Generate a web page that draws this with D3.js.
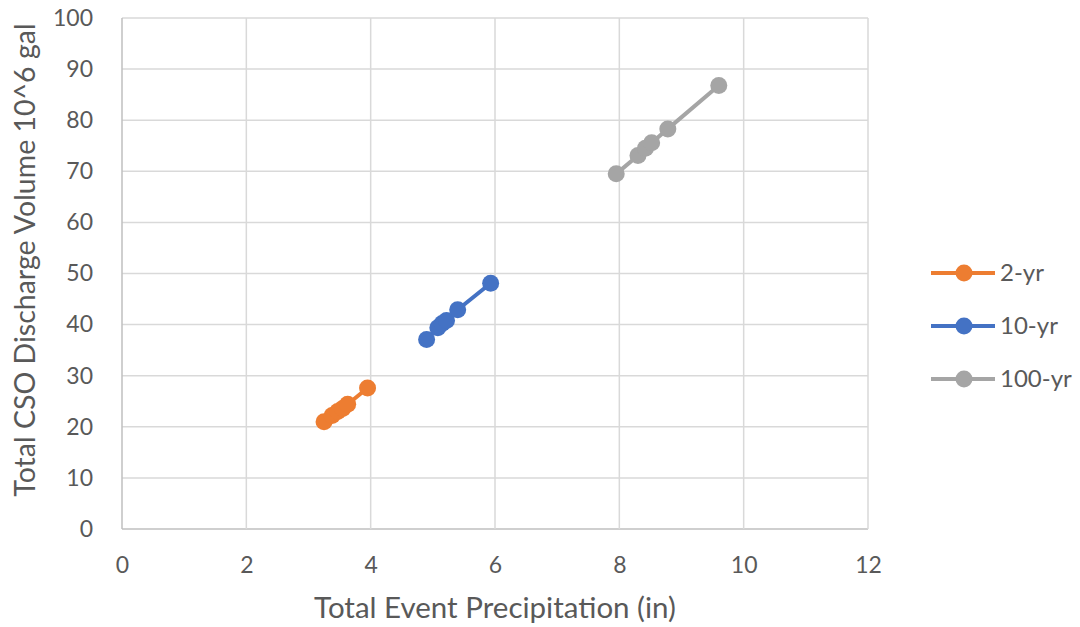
<!DOCTYPE html>
<html>
<head>
<meta charset="utf-8">
<script src="https://cdn.jsdelivr.net/npm/d3@7"></script>
<style>
  body { margin: 0; background: #fff; }
  text { font-family: Lato, "Open Sans", sans-serif; fill: #595959; }
</style>
</head>
<body>
<div id="chart"></div>
<script>
// data
const seriesNames = ["2-yr", "10-yr", "100-yr"];
const seriesColors = ["#ED7D31", "#4472C4", "#A5A5A5"];
const precip2 = [3.25, 3.38, 3.47, 3.55, 3.63, 3.95];
const volume2 = [21.0, 22.2, 23.0, 23.6, 24.4, 27.6];
const precip10 = [4.9, 5.08, 5.15, 5.22, 5.4, 5.93];
const volume10 = [37.1, 39.4, 40.2, 40.8, 42.9, 48.1];
const precip100 = [7.95, 8.3, 8.42, 8.52, 8.78, 9.6];
const volume100 = [69.5, 73.1, 74.5, 75.6, 78.3, 86.8];
const xTicks = [0, 2, 4, 6, 8, 10, 12];
const yTicks = [0, 10, 20, 30, 40, 50, 60, 70, 80, 90, 100];

const series = [
    { name: seriesNames[0], color: seriesColors[0], pts: precip2.map((x, i) => [x, volume2[i]]) },
    { name: seriesNames[1], color: seriesColors[1], pts: precip10.map((x, i) => [x, volume10[i]]) },
    { name: seriesNames[2], color: seriesColors[2], pts: precip100.map((x, i) => [x, volume100[i]]) }
];

const W = 1080, H = 627;
const margin = { top: 18, right: 212, bottom: 98, left: 122 };
const width = W - margin.left - margin.right,
    height = H - margin.top - margin.bottom;

const svg = d3.select("#chart")
    .append("svg")
    .attr("width", W)
    .attr("height", H);

const g = svg.append("g")
    .attr("transform", `translate(${margin.left},${margin.top})`);

const xScale = d3.scaleLinear().domain([0, 12]).range([0, width]);
const yScale = d3.scaleLinear().domain([0, 100]).range([height, 0]);

// gridlines
g.append("g")
    .selectAll("line.h")
    .data(yTicks)
    .enter()
    .append("line")
    .attr("x1", 0).attr("x2", width)
    .attr("y1", d => yScale(d)).attr("y2", d => yScale(d))
    .attr("stroke", d => d === 0 ? "#bfbfbf" : "#d9d9d9")
    .attr("stroke-width", 1.5);

g.append("g")
    .selectAll("line.v")
    .data(xTicks)
    .enter()
    .append("line")
    .attr("y1", 0).attr("y2", height)
    .attr("x1", d => xScale(d)).attr("x2", d => xScale(d))
    .attr("stroke", d => d === 0 ? "#bfbfbf" : "#d9d9d9")
    .attr("stroke-width", 1.5);

// axes (labels only, Excel style)
const xAxis = d3.axisBottom(xScale).tickValues(xTicks).tickSize(0).tickPadding(28);
const yAxis = d3.axisLeft(yScale).tickValues(yTicks).tickSize(0).tickPadding(29);

g.append("g")
    .attr("transform", `translate(0,${height})`)
    .call(xAxis)
    .call(s => s.select(".domain").remove())
    .selectAll("text")
    .style("font-size", "23px")
    .attr("fill", "#595959");

g.append("g")
    .call(yAxis)
    .call(s => s.select(".domain").remove())
    .selectAll("text")
    .style("font-size", "23px")
    .attr("fill", "#595959");

// axis titles
svg.append("text")
    .attr("x", 495)
    .attr("y", 618)
    .attr("text-anchor", "middle")
    .style("font-size", "29.5px")
    .text("Total Event Precipitation (in)");

svg.append("text")
    .attr("transform", "translate(35,260) rotate(-90)")
    .attr("text-anchor", "middle")
    .style("font-size", "28.5px")
    .text("Total CSO Discharge Volume 10^6 gal");

// series
const line = d3.line().x(d => xScale(d[0])).y(d => yScale(d[1]));

series.forEach(s => {
    g.append("path")
        .datum(s.pts)
        .attr("d", line)
        .attr("fill", "none")
        .attr("stroke", s.color)
        .attr("stroke-width", 4);

    g.append("g")
        .selectAll("circle")
        .data(s.pts)
        .enter()
        .append("circle")
        .attr("cx", d => xScale(d[0]))
        .attr("cy", d => yScale(d[1]))
        .attr("r", 8.5)
        .attr("fill", s.color);
});

// legend
const legend = svg.append("g")
    .attr("transform", "translate(931,273)");

const rows = legend.selectAll("g")
    .data(series)
    .enter()
    .append("g")
    .attr("transform", (d, i) => `translate(0,${i * 53})`);

rows.append("line")
    .attr("x1", 0).attr("x2", 64)
    .attr("stroke", d => d.color)
    .attr("stroke-width", 4);

rows.append("circle")
    .attr("cx", 33)
    .attr("r", 8.5)
    .attr("fill", d => d.color);

rows.append("text")
    .attr("x", 69)
    .attr("dy", "0.35em")
    .style("font-size", "24px")
    .text(d => d.name);
</script>
</body>
</html>
